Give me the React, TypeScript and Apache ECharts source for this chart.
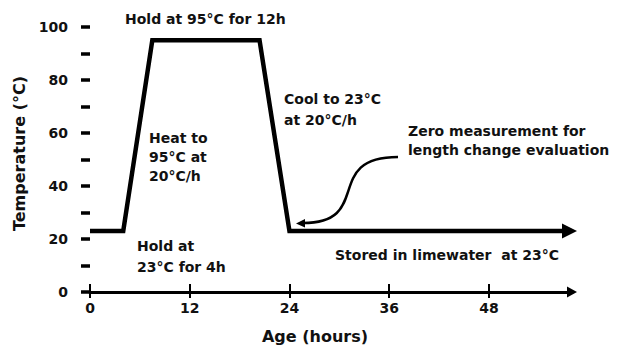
import React, { useEffect, useRef } from "react";
import * as echarts from "echarts";

const hours = [0, 4, 7.5, 20.4, 24, 57.7];
const temps = [23, 23, 95, 95, 23, 23];
const xTickValues = [0, 12, 24, 36, 48];
const yTickValues = [0, 10, 20, 30, 40, 50, 60, 70, 80, 90, 100];
const yLabelValues = [0, 20, 40, 60, 80, 100];
const xName = "Age (hours)";
const yName = "Temperature (°C)";
const notes = {
  hold95: "Hold at 95°C for 12h",
  heat: "Heat to\n95°C at\n20°C/h",
  cool: "Cool to 23°C\nat 20°C/h",
  zero: "Zero measurement for\nlength change evaluation",
  hold23: "Hold at\n23°C for 4h",
  stored: "Stored in limewater  at 23°C",
};

const FONT = "DejaVu Sans";
const INK = "#111";

function note(text: string, x: number, y: number, lh: number) {
  return {
    type: "text",
    x,
    y,
    silent: true,
    style: {
      text,
      fill: INK,
      fontFamily: FONT,
      fontWeight: "bold",
      fontSize: 14,
      lineHeight: lh,
      align: "left",
      verticalAlign: "top",
    },
  };
}

export default function App() {
  const ref = useRef<HTMLDivElement>(null);
  useEffect(() => {
    if (!ref.current) return;
    const chart = echarts.init(ref.current, null, { renderer: "svg" });
    const data = hours.map((h, i) => {
      if (i === hours.length - 1) {
        return {
          value: [h, temps[i]],
          symbol: "triangle",
          symbolSize: [15, 15],
          symbolRotate: -90,
          itemStyle: { color: "#000" },
        };
      }
      return { value: [h, temps[i]], symbol: "none" };
    });
    chart.setOption({
      animation: false,
      grid: { left: 90, right: 59, top: 27, bottom: 58 },
      xAxis: [
        {
          type: "value",
          min: 0,
          max: 58,
          interval: 12,
          position: "bottom",
          splitLine: { show: false },
          axisLine: {
            show: true,
            onZero: false,
            symbol: ["none", "triangle"],
            symbolSize: [11, 10],
            lineStyle: { color: "#000", width: 3 },
          },
          axisTick: {
            show: true,
            inside: true,
            length: 8,
            customValues: xTickValues,
            lineStyle: { color: "#000", width: 2 },
          },
          axisLabel: {
            customValues: xTickValues,
            margin: 9,
            color: INK,
            fontFamily: FONT,
            fontWeight: "bold",
            fontSize: 14,
          },
          name: xName,
          nameLocation: "middle",
          nameGap: 36,
          nameTextStyle: {
            color: INK,
            fontFamily: FONT,
            fontWeight: "bold",
            fontSize: 16,
            padding: [0, 32, 0, 0],
          },
        },
        {
          type: "value",
          min: 0,
          max: 58,
          interval: 12,
          position: "bottom",
          splitLine: { show: false },
          axisLine: { show: false, onZero: false },
          axisTick: {
            show: true,
            inside: false,
            length: 6,
            customValues: xTickValues,
            lineStyle: { color: "#000", width: 2 },
          },
          axisLabel: { show: false },
        },
      ],
      yAxis: {
        type: "value",
        min: 0,
        max: 100,
        interval: 10,
        offset: 3,
        splitLine: { show: false },
        axisLine: { show: false },
        axisTick: {
          show: true,
          inside: false,
          length: 9,
          customValues: yTickValues,
          lineStyle: { color: "#000", width: 3.5 },
        },
        axisLabel: {
          customValues: yLabelValues,
          margin: 19,
          color: INK,
          fontFamily: FONT,
          fontWeight: "bold",
          fontSize: 14,
        },
        name: yName,
        nameLocation: "middle",
        nameGap: 50,
        nameTextStyle: {
          color: INK,
          fontFamily: FONT,
          fontWeight: "bold",
          fontSize: 16,
          padding: [0, 0, 0, 12],
        },
      },
      series: [
        {
          type: "line",
          xAxisIndex: 0,
          data,
          showSymbol: true,
          lineStyle: { color: "#000", width: 4.5, join: "miter" },
          itemStyle: { color: "#000" },
          z: 5,
        },
      ],
      graphic: [
        note(notes.hold95, 125, 9, 19),
        note(notes.heat, 149, 128, 19),
        note(notes.cool, 284, 88, 21),
        note(notes.zero, 408, 121, 19),
        note(notes.hold23, 137, 235, 21),
        note(notes.stored, 335, 245, 19),
        {
          type: "bezierCurve",
          silent: true,
          shape: {
            x1: 398,
            y1: 157,
            cpx1: 322,
            cpy1: 157,
            cpx2: 374,
            cpy2: 223,
            x2: 303,
            y2: 223,
          },
          style: { stroke: "#000", lineWidth: 2.5, fill: "none" },
        },
        {
          type: "polygon",
          silent: true,
          shape: { points: [[296, 223.5], [305, 219], [305, 227.5]] },
          style: { fill: "#000" },
        },
      ],
    });
    return () => chart.dispose();
  }, []);
  return (
    <div
      ref={ref}
      style={{ position: "absolute", left: 0, top: 0, width: 631, height: 350 }}
    />
  );
}
